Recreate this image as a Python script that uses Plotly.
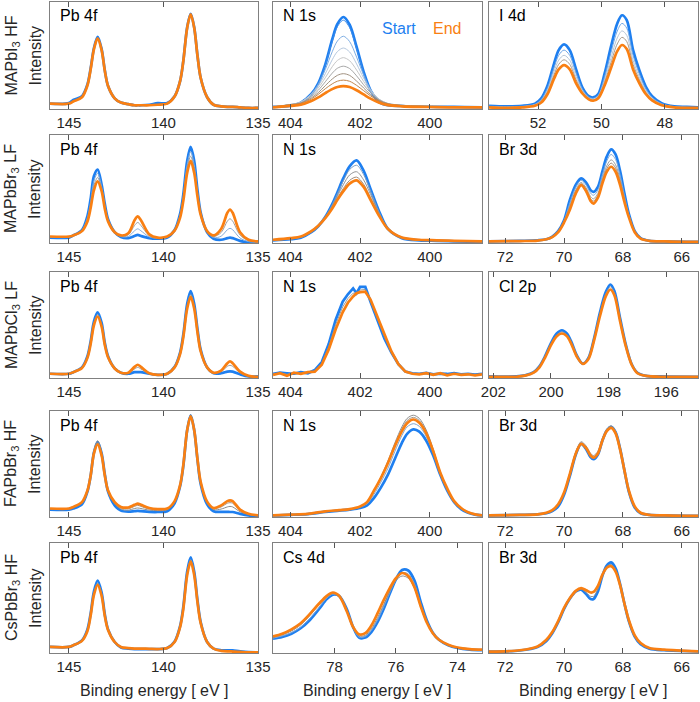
import plotly.graph_objects as go

# ---------------- data (y in % of panel height) ----------------
X_PB = [146, 145, 144.77, 144.31, 144.02, 143.85, 143.675, 143.48, 143.27, 143.1, 142.93, 142.58, 142.25,
        141.86, 141.53, 141.36, 141.19, 140.75, 140.3, 139.8, 139.41, 139.12, 138.95, 138.745, 138.56, 138.375,
        138.2, 138.03, 137.69, 137.35, 136.95, 136.62, 136.48, 136.34, 135.95, 135.5, 135]

PB_R1_START = [5, 5.5, 8.5, 12, 23, 38, 57, 67.5, 56, 36, 21.5, 10, 6, 4.5, 3.5, 3.5, 3.5, 4, 5.5, 5.5, 11.8, 26, 45,
               76.5, 89, 76.5, 50, 29, 11, 4, 2.5, 2, 2, 2, 1.5, 1, 1]
PB_R1_END = [5, 5, 7, 11, 22, 37, 56, 66, 55, 35.5, 21.5, 10, 6, 4.5, 3.5, 3.5, 3.5, 3.5, 4, 5, 11.6, 26, 44.6,
             76, 88.5, 76, 49.6, 29, 11, 4, 2.5, 2, 2, 2, 1.5, 1, 1]

PB_R2_START = [5, 5, 7, 12, 25, 41, 62, 68, 54, 36, 22, 10, 5.5, 4.5, 6.5, 7.5, 6.5, 4.5, 4, 5, 12, 27, 45, 76, 89,
               76, 49, 28, 10, 4, 3, 4.5, 5, 4.5, 2, 0.5, 0.5]
PB_R2_MID_A = [5.3, 5.3, 7, 11.7, 23.4, 38.2, 57.7, 64.4, 52, 34.5, 21.3, 10, 6, 6, 11.3, 13.1, 11.3, 5.7, 4.3, 5.3,
               11.8, 25.8, 43, 72.4, 84.7, 72.4, 47, 27.3, 10.3, 5, 6.3, 12.3, 13.6, 12.3, 4.6, 1.3, 0.8]
PB_R2_MID_B = [5.7, 5.7, 7, 11.3, 21.7, 35.3, 53.3, 60.6, 50, 33, 20.7, 10, 6.5, 7.5, 16.2, 19, 16.2, 6.8, 4.7, 5.7,
               11.7, 24.7, 41, 68.6, 80.3, 68.6, 45, 26.7, 10.7, 6, 9.7, 20.2, 22.4, 20.2, 7.4, 2.2, 1.2]
PB_R2_END = [6, 6, 7, 11, 20, 32.5, 49, 57, 48, 31.5, 20, 10, 7, 9, 21, 24.6, 21, 8, 5, 6, 11.5, 23.5, 39, 65, 76,
             65, 43, 26, 11, 7, 13, 28, 31, 28, 10, 3, 1.5]

PB_R3_START = [4, 4, 5.5, 10, 20.5, 34.5, 53.5, 62, 52, 33, 20.5, 9, 5, 4, 5.5, 5.6, 5.5, 4, 3, 4, 10.5, 24, 41, 70,
               82, 70, 46, 26.5, 10, 4.5, 4.5, 6, 6.2, 6, 3.5, 1.5, 1.5]
PB_R3_MID = [4, 4, 5.5, 9.8, 19.8, 33.2, 51.8, 60, 50.2, 32, 20, 9, 5, 4.6, 8.5, 10, 8.5, 4.3, 3, 4, 10.3, 23.2,
             39.8, 67.8, 79, 67.8, 44.5, 25.8, 10, 4.8, 6, 11, 12, 11, 5, 1.8, 1.2]
PB_R3_END = [4, 4, 5.5, 9.5, 19, 32, 50, 58, 48.5, 31, 19.5, 9, 5, 5, 10.5, 12.5, 10.5, 4.5, 3, 4, 10, 22.5, 38.5,
             65.5, 76.5, 65.5, 43, 25, 10, 5, 7, 14, 15.6, 14, 6, 2, 1]

PB_R4_START = [7, 7, 8, 12, 24, 39, 61, 70.7, 60, 40, 24, 11, 6, 5, 5.5, 5.7, 5.5, 4.8, 4.7, 5.5, 13, 29, 48, 82, 96,
               82, 54, 31, 12, 5.5, 4.8, 4.8, 4.7, 4.7, 3, 1.5, 1]
PB_R4_MID_A = [7.5, 7.5, 9, 13, 25.5, 41, 63, 72, 61.5, 41, 25, 12.5, 7.5, 6.5, 8, 8.5, 8, 6.5, 6, 6.8, 14, 30, 49.5,
               83, 96.5, 83, 55, 32, 13, 7, 7.5, 9.5, 10, 9.5, 5, 2.2, 1.3]
PB_R4_MID_B = [7.8, 7.8, 9.2, 13.5, 25, 40, 61.5, 70, 59.5, 40, 25, 13, 8.5, 7.8, 10, 11, 10, 7.5, 6.8, 7.5, 14.5,
               30, 49, 82.5, 95.5, 82.5, 54.5, 32.5, 14, 8, 9.5, 13, 13.5, 13, 6.2, 2.6, 1.4]
PB_R4_END = [8, 8, 9.5, 14, 25, 39, 60, 68.5, 58, 39, 25, 14, 9.5, 9, 11.5, 12.6, 11.5, 8.5, 7.5, 8, 15, 30, 49, 82,
             95, 82, 54.5, 33, 14.5, 8.5, 11, 15, 15.7, 15, 7, 3, 1.6]

PB_R5_START = [5.5, 5.5, 7, 11.5, 21.5, 36, 56, 65.8, 55, 35, 21.5, 10, 5, 4, 3.5, 3.5, 3.5, 3.5, 3.5, 4.5, 10.5,
               24.5, 42, 74, 87, 74, 48, 28, 10, 4, 2.5, 2.4, 2.4, 2.3, 1.5, 0.8, 0.6]
PB_R5_MID = [5.5, 5.5, 7, 11.2, 20.5, 35, 54.5, 63.5, 53.5, 34, 21.2, 10, 5.2, 4.2, 3.8, 3.8, 3.8, 3.6, 3.5, 4.5,
             10.2, 24, 41, 72.5, 85, 72.5, 47, 27.5, 10, 4, 2.2, 2, 2, 1.8, 1.2, 0.7, 0.6]
PB_R5_END = [5.5, 5.5, 7, 11, 20, 34, 53, 62, 52, 33.5, 21, 10, 5.5, 4.5, 4, 4, 4, 3.8, 3.6, 4.5, 10, 23.5, 40, 71,
             83, 71, 46, 27, 10, 4, 2, 1.5, 1.5, 1.3, 1, 0.7, 0.6]

X_N1S = [404.5, 404.0, 403.7, 403.4, 403.2, 403.0, 402.8, 402.65, 402.48, 402.3, 402.1, 401.9, 401.7, 401.45,
         401.2, 400.8, 400.3, 399.8, 399.3, 398.5]

N1S_R1_START = [2, 3, 6, 14, 24, 41.5, 65, 79.5, 86, 78.8, 58, 35, 17.5, 6.5, 3.5, 2.8, 2.3, 2, 2, 1.5]
N1S_R1_MID_1 = [2, 3, 5.9, 13.8, 23.5, 40.5, 63, 77, 83, 76, 56, 34, 17, 6.5, 3.5, 2.8, 2.3, 2, 2, 1.5]
N1S_R1_MID_2 = [2, 4, 6.6, 14.3, 23.1, 36.8, 53.5, 63.6, 68, 63, 48.5, 31.9, 18.4, 8.7, 4.8, 3.4, 2.7, 2.3, 2, 1.5]
N1S_R1_MID_3 = [2, 4.2, 6.6, 13.7, 21.5, 32.9, 46, 53.7, 57, 53.3, 42.1, 29, 17.8, 9.1, 5.2, 3.5, 2.7, 2.4, 2, 1.5]
N1S_R1_MID_4 = [2, 4.3, 6.3, 12.8, 19.6, 29.2, 39.5, 45.4, 48, 45.1, 36.4, 25.9, 16.7, 9, 5.2, 3.6, 2.7, 2.4, 2, 1.5]
N1S_R1_MID_5 = [2, 4.2, 5.9, 11.6, 17.5, 25.4, 33.5, 38.1, 40, 37.8, 31, 22.7, 15.2, 8.6, 5, 3.5, 2.7, 2.4, 2, 1.5]
N1S_R1_MID_6 = [2, 4, 5.5, 10.4, 15.3, 21.8, 28, 31.5, 33, 31.4, 26.1, 19.7, 13.5, 7.9, 4.8, 3.3, 2.7, 2.4, 2, 1.5]
N1S_R1_MID_7 = [2, 3.9, 5.2, 9.4, 13.7, 18.9, 23.5, 26, 27, 25.9, 22.1, 17.2, 12.3, 7.5, 4.7, 3.2, 2.6, 2.3, 2, 1.5]
N1S_R1_END = [1.5, 3, 4, 7.4, 10.8, 14.9, 18.6, 20.6, 21.4, 20.5, 17.5, 13.6, 9.7, 5.9, 3.6, 2.5, 2, 1.8, 1.5, 1.5]

N1S_R2_START = [2.5, 3.5, 5, 10, 15.5, 24, 36, 47, 60, 71, 76.5, 67, 50, 29, 13, 4.5, 2.5, 2, 1.5, 1]
N1S_R2_MID_1 = [2.6, 3.7, 5.2, 10.2, 15.6, 23.8, 35.3, 45.6, 57.6, 68, 72, 63.5, 48, 28.3, 13, 4.6, 2.6, 2.1, 1.6, 1.1]
N1S_R2_MID_2 = [2.7, 3.9, 5.5, 10.5, 15.8, 23.5, 34, 43.5, 54, 63, 66, 58.5, 45, 27, 13, 4.8, 2.7, 2.3, 1.8, 1.3]
N1S_R2_MID_3 = [2.9, 4.2, 5.8, 10.8, 15.9, 23.2, 32.8, 41.5, 50.5, 58, 61, 54.5, 42, 25.8, 13, 4.9, 2.9, 2.4, 1.9, 1.4]
N1S_R2_END = [3, 4.5, 6, 11, 16, 23, 32, 40, 48, 55, 58, 52, 40, 25, 13, 5, 3, 2.5, 2, 1.5]

X_N1S_R3 = [404.5, 404.3, 404.1, 403.9, 403.7, 403.5, 403.3, 403.1, 402.9, 402.7, 402.5, 402.35, 402.2, 402.1,
            402.0, 401.85, 401.7, 401.5, 401.3, 401.1, 400.9, 400.7, 400.5, 400.3, 400.1, 399.9, 399.7, 399.5,
            399.3, 399.1, 398.9, 398.7, 398.5]
N1S_R3_START = [4, 5, 4.5, 4, 5.5, 4.5, 7.5, 15, 32, 55, 72, 79, 84.5, 80, 86, 86, 72, 55, 37, 24, 13, 6, 4.5, 4,
                4.8, 3.5, 4.2, 3.8, 4.5, 3.5, 4, 3.2, 4]
N1S_R3_MID = [3.5, 4.5, 3.5, 4.5, 4.5, 5, 6.5, 13.5, 29.5, 50.5, 67, 75, 80, 80, 83, 83.5, 73, 56, 39, 24.5, 13, 6,
              4, 3.8, 4.5, 3.2, 4.3, 3, 4.2, 3.2, 3.7, 2.8, 3.7]
N1S_R3_END = [3, 4.5, 2, 5, 4, 5.5, 6, 12.5, 27, 46, 62, 71, 77, 80, 81, 81.4, 74, 58, 41, 25, 13, 6, 4, 3.5, 4.5,
              3, 4.5, 2.5, 4, 3, 3.5, 2.5, 3.5]

X_N1S_R4 = [404.5, 404.0, 403.5, 403.0, 402.6, 402.3, 402.0, 401.8, 401.6, 401.4, 401.2, 401.0, 400.8, 400.65,
            400.47, 400.3, 400.1, 399.9, 399.7, 399.5, 399.3, 399.1, 398.9, 398.7, 398.5]
N1S_R4_START = [1.5, 2, 2.8, 4.8, 6, 7, 8.5, 11, 18, 28, 40, 55, 70, 78.5, 82.7, 80.5, 72, 58, 40, 25, 14, 7.5, 4,
                2.2, 1.5]
N1S_R4_MID_1 = [1.5, 2.1, 2.9, 5, 6.3, 7.3, 9.3, 12.5, 21.5, 33, 46, 62, 77, 85, 88, 85.5, 76, 61, 42, 26.5, 14.5,
                8, 4.2, 2.3, 1.5]
N1S_R4_MID_2 = [1.5, 2.2, 3, 5.3, 6.6, 7.6, 10, 14, 25, 38, 53, 70, 85, 93, 96, 93, 82, 64, 43, 27, 15, 8.5, 4.5,
                2.5, 1.5]
N1S_R4_MID_3 = [1.5, 2.2, 3, 5.2, 6.5, 7.5, 9.8, 13.5, 24, 36.5, 51.5, 68, 83, 91, 94, 91, 80.5, 63, 42.5, 27, 15,
                8.5, 4.5, 2.5, 1.5]
N1S_R4_END = [1.5, 2.2, 3, 5.3, 6.5, 7.5, 10, 14, 25, 37, 51, 67, 81, 88.5, 92, 89, 79, 62, 42, 27, 15, 8.5, 4.5,
              2.5, 1.5]

X_CS = [80, 79.7, 79.4, 79.1, 78.8, 78.5, 78.25, 78.05, 77.85, 77.6, 77.4, 77.2, 77.0, 76.8, 76.6, 76.4, 76.2,
        76.0, 75.8, 75.6, 75.4, 75.2, 75.0, 74.8, 74.6, 74.3, 74.0, 73.6, 73.2]
CS_START = [13, 14.5, 17.5, 22.5, 30, 40, 49, 53, 52, 40, 24, 14, 14, 19, 28, 40, 54, 67, 75.5, 75, 66, 47, 30,
            18.5, 12, 7, 4.5, 3, 2.5]
CS_MID_1 = [13.5, 15.5, 18.5, 23.5, 31.5, 41.5, 50, 53.5, 51.5, 39, 23.5, 14.5, 15, 20.5, 30, 42, 55, 66.5, 73, 72,
            63, 45, 29, 18.3, 12, 7.2, 4.6, 3.2, 2.6]
CS_MID_2 = [14.5, 16.5, 20, 25.5, 34, 44, 51, 54, 51, 37.5, 23, 15.5, 16, 22, 32, 44, 56, 66, 70, 68, 59, 42, 27.5,
            18, 12, 7.3, 4.8, 3.3, 2.8]
CS_END = [15, 17.5, 21.5, 27, 35.5, 45, 52, 55, 52, 38, 24, 17, 18, 25, 36, 48, 59, 68, 72.7, 70, 60, 43, 28, 18,
          12, 7.5, 5, 3.5, 3]

X_I4D = [53.55, 53.0, 52.5, 52.1, 51.9, 51.7, 51.5, 51.35, 51.18, 51.0, 50.8, 50.6, 50.4, 50.26, 50.1, 49.9, 49.7,
         49.5, 49.35, 49.2, 49.0, 48.8, 48.6, 48.4, 48.1, 47.7, 47.3, 46.95]
I4D_START = [3, 2.5, 3, 5, 10, 22, 42, 55, 60.4, 55, 37, 20, 12, 10.8, 14, 33, 58, 80, 87.6, 83, 55, 36, 21, 12,
             5.5, 2.5, 2, 1.5]
I4D_MID_1 = [2.6, 2.1, 2.6, 4.5, 8.9, 19.8, 38.2, 50.1, 55.1, 50.1, 33.5, 18.5, 11.2, 10, 12.9, 30, 52.5, 72.9, 80,
             75.6, 50.1, 32.7, 19.1, 10.9, 5, 2.2, 1.7, 1.4]
I4D_MID_2 = [2.2, 1.7, 2.2, 4, 7.9, 17.8, 34.7, 45.6, 50.2, 45.6, 30.2, 17.1, 10.4, 9.2, 11.9, 27.2, 47.5, 66.4, 73,
             68.8, 45.6, 29.7, 17.3, 9.9, 4.4, 2, 1.5, 1.2]
I4D_MID_3 = [1.9, 1.4, 1.9, 3.5, 7, 16.1, 31.6, 41.7, 46, 41.7, 27.4, 15.9, 9.8, 8.5, 11, 24.9, 43.2, 60.8, 67, 63,
             41.7, 27.1, 15.8, 9, 4, 1.8, 1.3, 1.1]
I4D_END = [1.5, 1, 1.5, 3, 6, 14, 28, 37, 41, 37, 24, 14.5, 9, 7.7, 10, 22, 38, 54, 59.8, 56, 37, 24, 14, 8, 3.5,
           1.5, 1, 1]

X_BR = [72.55, 71.5, 70.9, 70.6, 70.4, 70.2, 70.0, 69.8, 69.6, 69.42, 69.25, 69.1, 69.0, 68.85, 68.7, 68.55, 68.4,
        68.25, 68.1, 67.95, 67.8, 67.6, 67.4, 67.1, 66.6, 65.45]
BR_R2_START = [1.5, 2, 2.5, 3.5, 6, 11, 21, 40, 54, 59.8, 56, 49, 47.4, 52, 66, 80, 86.7, 82, 67, 46, 27, 11, 4.5, 2,
               1.5, 1]
BR_R2_MID_1 = [1.5, 1.9, 2.4, 3.5, 5.9, 10.7, 20.4, 37.4, 51.7, 58, 53.7, 46.1, 44.2, 49.1, 62.8, 75.9, 82, 77.4,
               63.2, 43.7, 26.1, 10.7, 4.4, 2, 1.5, 1]
BR_R2_MID_2 = [1.5, 1.9, 2.3, 3.5, 5.7, 10.4, 19.8, 34.6, 49.2, 56.1, 51.2, 43, 40.9, 46, 59.4, 71.6, 77, 72.4, 59.2,
               41.2, 25.2, 10.4, 4.2, 2, 1.5, 1]
BR_R2_MID_3 = [1.5, 1.8, 2.3, 3.5, 5.6, 10.2, 19.4, 32.9, 47.7, 54.9, 49.7, 41.1, 38.8, 44.1, 57.3, 68.9, 74, 69.4,
               56.7, 39.7, 24.6, 10.2, 4.1, 2, 1.5, 1]
BR_R2_END = [1.5, 1.8, 2.2, 3.5, 5.5, 10, 19, 31, 46, 53.6, 48, 39, 36.5, 42, 55, 66, 70.6, 66, 54, 38, 24, 10, 4, 2,
             1.5, 1]

BR_R4_START = [1.5, 2, 2.5, 3.5, 5.5, 10, 21, 39, 59, 69, 64, 56.5, 54.5, 59, 72, 81.5, 85, 80, 65, 44, 24, 9, 3.5,
               2, 1.5, 1]
BR_R4_MID = [1.5, 2, 2.5, 4, 6.5, 12, 23.5, 42, 61.5, 71, 67, 60, 58, 62, 74, 83, 86, 81, 66, 45, 25.5, 10, 4, 2,
             1.5, 1]
BR_R4_END = [1.5, 2, 2.5, 4, 6.5, 12, 23, 41, 60, 69, 65, 58, 56, 60, 72, 81, 84, 79, 64, 44, 25, 10, 4, 2, 1.5, 1]

BR_R5_START = [1.2, 2.3, 5.5, 11, 18, 28, 40, 49.5, 56, 57.6, 53.5, 49, 49, 56, 70, 79.5, 82.4, 77, 63, 45, 29, 15,
               8, 4, 2.5, 1.5]
BR_R5_MID = [1.2, 2.4, 5.8, 11.5, 18.5, 28.5, 40.5, 49.8, 56, 58, 55, 51.5, 51.5, 58, 70.5, 78.5, 80.5, 75.5, 62.5,
             45, 29.5, 15.5, 8.5, 4.2, 2.8, 1.5]
BR_R5_END = [1.2, 2.5, 6, 12, 19, 29, 41, 50, 56.5, 59, 57, 55, 55.5, 61, 71, 77.5, 78.8, 74, 62, 45, 30, 16, 9,
             4.5, 3, 1.5]

X_CL = [202.15, 201.2, 200.9, 200.6, 200.4, 200.2, 200.0, 199.8, 199.62, 199.45, 199.3, 199.1, 198.9, 198.7, 198.5,
        198.3, 198.1, 197.94, 197.8, 197.6, 197.4, 197.2, 197.0, 196.7, 196.2, 194.9]
CL_START = [1.5, 1.5, 2.5, 5.5, 11, 20.8, 33, 42, 45, 42, 34.5, 21, 13.5, 19, 38, 62, 81, 88.2, 82, 56, 31, 13, 5, 2,
            1.5, 1.2]
CL_MID = [1.3, 1.3, 2.3, 5.2, 10.5, 20, 32, 40.5, 43.5, 40.5, 33.5, 20.5, 13.4, 18.5, 37, 60, 79, 86, 80, 54.5, 30,
          12.8, 4.8, 2, 1.3, 1.1]
CL_END = [1.2, 1.2, 2.2, 5, 10, 19.5, 31, 39.5, 42, 39.5, 32.5, 20, 13.4, 18, 36, 58.5, 77, 83.5, 78, 53, 29.5, 12.5,
          4.5, 2, 1.2, 1]

ROW_NAMES = ["MAPbI<sub>3</sub> HF", "MAPbBr<sub>3</sub> LF", "MAPbCl<sub>3</sub> LF",
             "FAPbBr<sub>3</sub> HF", "CsPbBr<sub>3</sub> HF"]
PB_TICKS = [145, 140, 135]
N1S_TICKS = [404, 402, 400]
CS_TICKS = [78, 76, 74]
I4D_TICKS = [52, 50, 48]
BR_TICKS = [72, 70, 68, 66]
CL_TICKS = [202, 200, 198, 196]

# ---------------- styling ----------------
BLUE = "#1E7FF0"
ORANGE = "#F97F12"
FONT = "Liberation Sans, Arial, sans-serif"
W, H = 700, 702
COLS = [(50, 258), (273, 482), (489, 698)]
ROWS = [(2, 109), (135, 243), (272, 378), (411, 517), (543, 653)]

PB_RANGE = (146, 135)
N1S_RANGE = (404.5, 398.5)

PANELS = [
    # row 1
    dict(r=0, c=0, lab="Pb 4f", x=X_PB, s=PB_R1_START, e=PB_R1_END, m=[], mc=[], xr=PB_RANGE, tv=PB_TICKS),
    dict(r=0, c=1, lab="N 1s", x=X_N1S, s=N1S_R1_START, e=N1S_R1_END,
         m=[N1S_R1_MID_1, N1S_R1_MID_2, N1S_R1_MID_3, N1S_R1_MID_4, N1S_R1_MID_5, N1S_R1_MID_6, N1S_R1_MID_7],
         mc=["#3A8BEA", "#7FAEE3", "#B5C8DE", "#C6C6C6", "#A6A6A6", "#A0907F", "#C0854D"],
         xr=N1S_RANGE, tv=N1S_TICKS),
    dict(r=0, c=2, lab="I 4d", x=X_I4D, s=I4D_START, e=I4D_END, m=[I4D_MID_1, I4D_MID_2, I4D_MID_3],
         mc=["#6FA6E6", "#B8C6D6", "#A89A8C"], xr=(53.55, 46.95), tv=I4D_TICKS),
    # row 2
    dict(r=1, c=0, lab="Pb 4f", x=X_PB, s=PB_R2_START, e=PB_R2_END, m=[PB_R2_MID_A, PB_R2_MID_B],
         mc=["#86ADD9", "#9C9C9C"], xr=PB_RANGE, tv=PB_TICKS),
    dict(r=1, c=1, lab="N 1s", x=X_N1S, s=N1S_R2_START, e=N1S_R2_END, m=[N1S_R2_MID_1, N1S_R2_MID_2, N1S_R2_MID_3],
         mc=["#7E9FC4", "#959595", "#A08C7C"], xr=N1S_RANGE, tv=N1S_TICKS),
    dict(r=1, c=2, lab="Br 3d", x=X_BR, s=BR_R2_START, e=BR_R2_END, m=[BR_R2_MID_1, BR_R2_MID_2, BR_R2_MID_3],
         mc=["#7FAADB", "#A0A0A0", "#A58D78"], xr=(72.55, 65.45), tv=BR_TICKS),
    # row 3
    dict(r=2, c=0, lab="Pb 4f", x=X_PB, s=PB_R3_START, e=PB_R3_END, m=[PB_R3_MID], mc=["#9A9A9A"],
         xr=PB_RANGE, tv=PB_TICKS),
    dict(r=2, c=1, lab="N 1s", x=X_N1S_R3, s=N1S_R3_START, e=N1S_R3_END, m=[N1S_R3_MID], mc=["#9A9A9A"],
         xr=N1S_RANGE, tv=N1S_TICKS, shape="linear"),
    dict(r=2, c=2, lab="Cl 2p", x=X_CL, s=CL_START, e=CL_END, m=[CL_MID], mc=["#A0A0A0"],
         xr=(202.15, 194.9), tv=CL_TICKS),
    # row 4
    dict(r=3, c=0, lab="Pb 4f", x=X_PB, s=PB_R4_START, e=PB_R4_END, m=[PB_R4_MID_A, PB_R4_MID_B],
         mc=["#8A8A8A", "#A39080"], xr=PB_RANGE, tv=PB_TICKS),
    dict(r=3, c=1, lab="N 1s", x=X_N1S_R4, s=N1S_R4_START, e=N1S_R4_END,
         m=[N1S_R4_MID_1, N1S_R4_MID_2, N1S_R4_MID_3], mc=["#7FA3CC", "#8C8C8C", "#A0968C"],
         xr=N1S_RANGE, tv=N1S_TICKS),
    dict(r=3, c=2, lab="Br 3d", x=X_BR, s=BR_R4_START, e=BR_R4_END, m=[BR_R4_MID], mc=["#8E8E8E"],
         xr=(72.55, 65.45), tv=BR_TICKS),
    # row 5
    dict(r=4, c=0, lab="Pb 4f", x=X_PB, s=PB_R5_START, e=PB_R5_END, m=[PB_R5_MID], mc=["#9A9A9A"],
         xr=PB_RANGE, tv=PB_TICKS),
    dict(r=4, c=1, lab="Cs 4d", x=X_CS, s=CS_START, e=CS_END, m=[CS_MID_1, CS_MID_2], mc=["#7FA6D6", "#8C8C8C"],
         xr=(80, 73.2), tv=CS_TICKS),
    dict(r=4, c=2, lab="Br 3d", x=X_BR, s=BR_R5_START, e=BR_R5_END, m=[BR_R5_MID], mc=["#8E8E8E"],
         xr=(72.55, 65.45), tv=BR_TICKS),
]


def px_x(v):
    return v / W


def px_y(v):
    return 1 - v / H


fig = go.Figure()
layout = dict(width=W, height=H, autosize=False, margin=dict(l=0, r=0, t=0, b=0, pad=0),
              paper_bgcolor="white", plot_bgcolor="white", showlegend=False,
              font=dict(family=FONT, color="#262626"))
annotations = []

for i, p in enumerate(PANELS):
    n = i + 1
    xa = "x" if n == 1 else f"x{n}"
    ya = "y" if n == 1 else f"y{n}"
    shape = p.get("shape", "spline")
    line_kw = dict(shape=shape)
    if shape == "spline":
        line_kw["smoothing"] = 0.9
    fig.add_trace(go.Scatter(x=p["x"], y=p["s"], mode="lines", xaxis=xa, yaxis=ya, hoverinfo="skip",
                             line=dict(color=BLUE, width=2.7, **line_kw)))
    for ys, col in zip(p["m"], p["mc"]):
        fig.add_trace(go.Scatter(x=p["x"], y=ys, mode="lines", xaxis=xa, yaxis=ya, hoverinfo="skip",
                                 line=dict(color=col, width=1, **line_kw)))
    fig.add_trace(go.Scatter(x=p["x"], y=p["e"], mode="lines", xaxis=xa, yaxis=ya, hoverinfo="skip",
                             line=dict(color=ORANGE, width=2.7, **line_kw)))

    c0, c1 = COLS[p["c"]]
    r0, r1 = ROWS[p["r"]]
    xkey = "xaxis" if n == 1 else f"xaxis{n}"
    ykey = "yaxis" if n == 1 else f"yaxis{n}"
    layout[xkey] = dict(domain=[px_x(c0), px_x(c1)], range=list(p["xr"]), anchor=ya, automargin=False,
                        tickvals=p["tv"], ticks="inside", ticklen=5, tickwidth=1, tickcolor="#555",
                        showline=True, linecolor="#808080", linewidth=1.2, mirror="ticks",
                        showgrid=False, zeroline=False, tickfont=dict(size=15, color="#262626"))
    layout[ykey] = dict(domain=[px_y(r1), px_y(r0)], range=[0, 100], anchor=xa, showticklabels=False,
                        automargin=False, ticks="", showline=True, linecolor="#808080", linewidth=1.2,
                        mirror=True, showgrid=False, zeroline=False, fixedrange=True)
    annotations.append(dict(text=p["lab"], x=px_x(c0 + 8), y=px_y(r0 + 14), xref="paper", yref="paper",
                            xanchor="left", yanchor="middle", showarrow=False,
                            font=dict(size=16, color="#000000")))

# row labels
for k, name in enumerate(ROW_NAMES):
    r0, r1 = ROWS[k]
    yc = px_y((r0 + r1) / 2)
    annotations.append(dict(text=name, x=px_x(12), y=yc, xref="paper", yref="paper", textangle=-90,
                            xanchor="center", yanchor="middle", showarrow=False,
                            font=dict(size=16, color="#262626")))
    annotations.append(dict(text="Intensity", x=px_x(35), y=yc, xref="paper", yref="paper", textangle=-90,
                            xanchor="center", yanchor="middle", showarrow=False,
                            font=dict(size=16, color="#262626")))

# x titles
for c0, c1 in COLS:
    annotations.append(dict(text="Binding energy [ eV ]", x=px_x((c0 + c1) / 2), y=px_y(690), xref="paper",
                            yref="paper", xanchor="center", yanchor="middle", showarrow=False,
                            font=dict(size=16, color="#262626")))

# Start / End legend text
annotations.append(dict(text="Start", x=px_x(399), y=px_y(28), xref="paper", yref="paper", xanchor="center",
                        yanchor="middle", showarrow=False, font=dict(size=16, color=BLUE)))
annotations.append(dict(text="End", x=px_x(447), y=px_y(28), xref="paper", yref="paper", xanchor="center",
                        yanchor="middle", showarrow=False, font=dict(size=16, color=ORANGE)))

layout["annotations"] = annotations
fig.update_layout(**layout)
fig.write_html("out.html", config={"responsive": False, "displayModeBar": False},
               post_script="document.body.style.margin='0';document.body.style.overflow='hidden';")
